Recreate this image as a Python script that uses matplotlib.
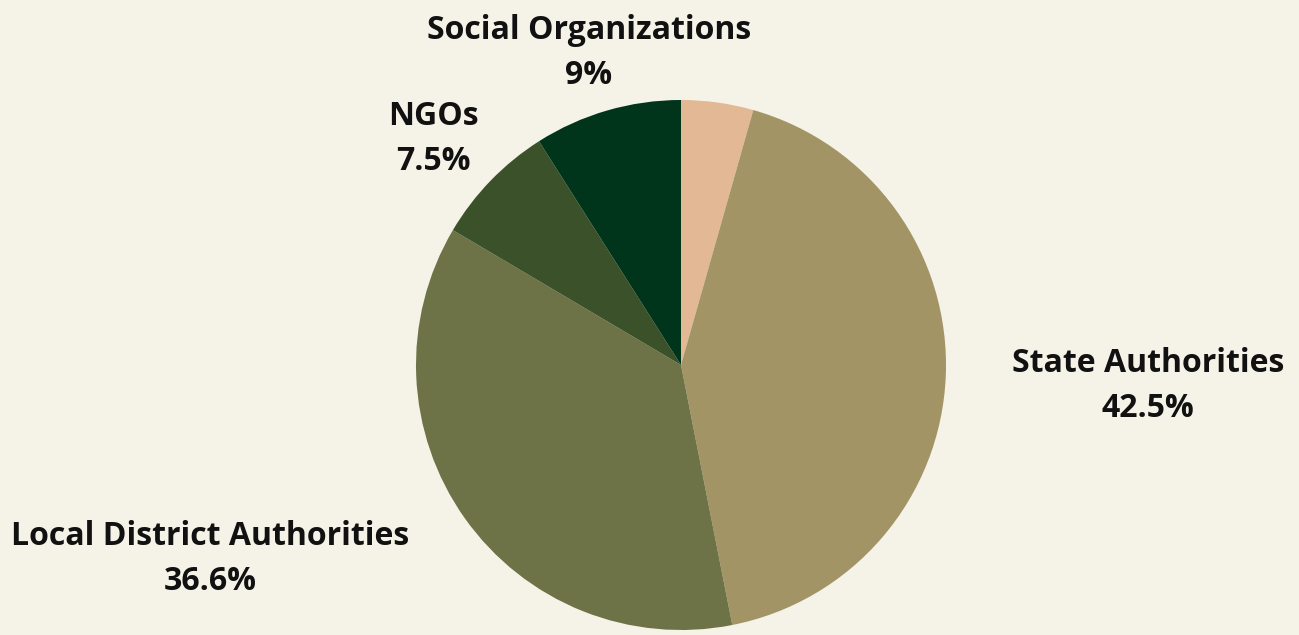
import matplotlib
matplotlib.use("Agg")
import matplotlib.pyplot as plt

# Share of responsibility by actor type (clockwise from 12 o'clock)
categories = ["", "State Authorities", "Local District Authorities", "NGOs", "Social Organizations"]
shares = [4.4, 42.5, 36.6, 7.5, 9.0]
colors = ["#e3b894", "#a39466", "#6d7346", "#3a5129", "#00341b"]
show_label = [False, True, True, True, True]

# label anchors (pixel coordinates, y measured from top)
label_xy = [None, (1148, 386), (210, 559), (433, 139), (589, 53)]

W, H = 1299, 635
bg = "#f5f3e7"

fig = plt.figure(figsize=(W / 100, H / 100), dpi=100, facecolor=bg)
ax = fig.add_axes([0, 0, 1, 1])

ax.pie(shares, colors=colors, startangle=90, counterclock=False,
       center=(681, H - 365), radius=265, frame=True,
       wedgeprops=dict(linewidth=0))
ax.set_xlim(0, W)
ax.set_ylim(0, H)
ax.set_aspect("equal")
ax.axis("off")

for name, val, show, xy in zip(categories, shares, show_label, label_xy):
    if not show:
        continue
    ax.text(xy[0], H - xy[1], f"{name}\n{val:g}%", ha="center", va="center",
            fontsize=23, fontweight="bold", family=["Open Sans", "DejaVu Sans"],
            color="#111111", linespacing=1.5)

fig.savefig("out.png", dpi=100, facecolor=bg)
